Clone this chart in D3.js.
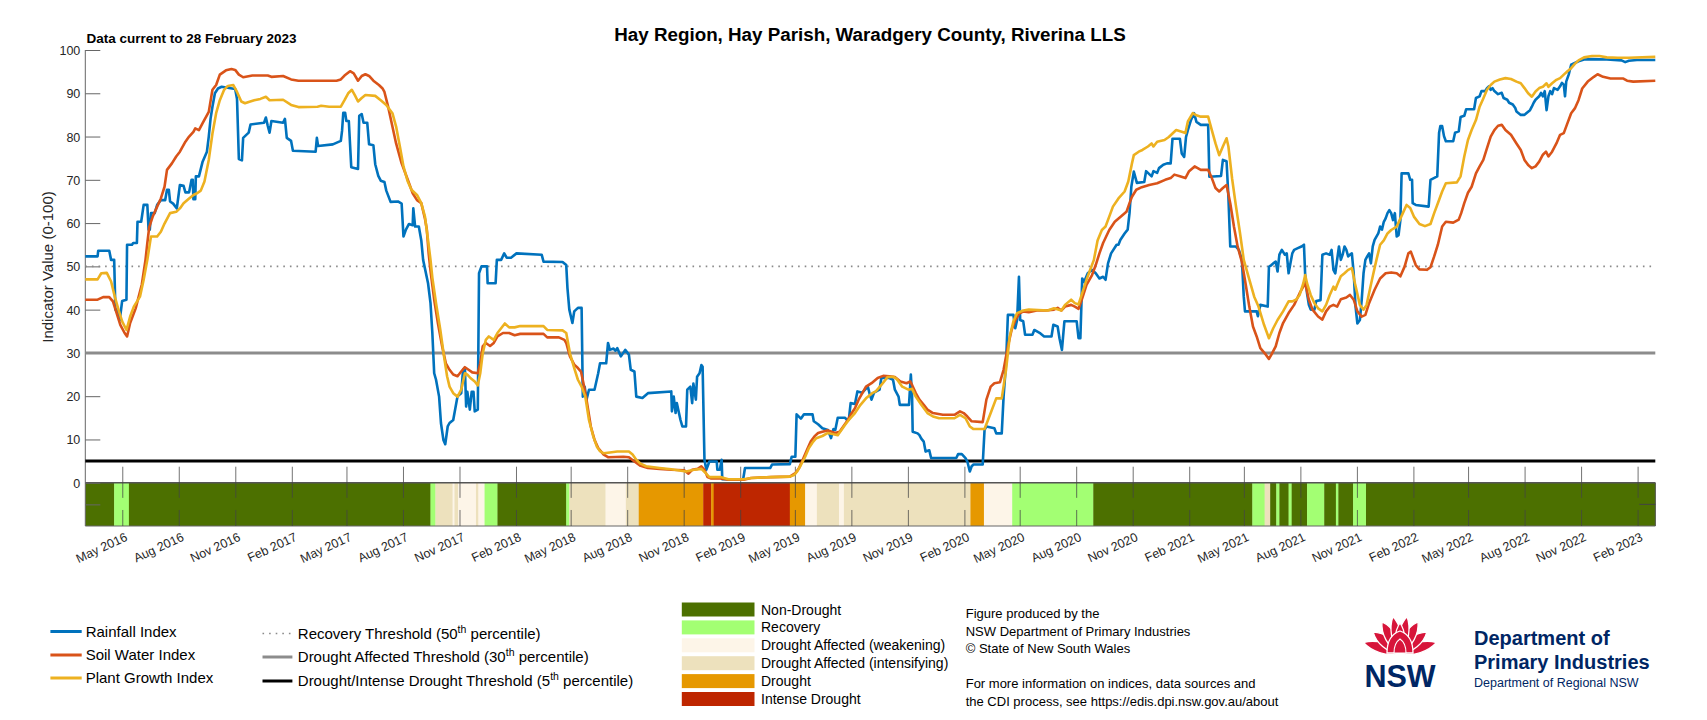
<!DOCTYPE html>
<html><head><meta charset="utf-8">
<script src="https://cdn.jsdelivr.net/npm/d3@7"></script>
<style>
body{margin:0;background:#fff;}
svg text{font-family:"Liberation Sans",Arial,Helvetica,sans-serif;}
</style></head><body>
<svg id="chart" width="1707" height="720"></svg>
<script>
// ---------------- DATA ----------------
const startDate = "2016-03-01";
const endDate = "2023-03-01";
// pairs: [days since startDate, index value (0-100)]
const rainfallIndex = [[0,52.3],[20,52.3],[21,53.6],[39,53.6],[42,51.5],[47,51.5],[49,40],[53,40],[56,37.5],[60,42],[67,42.3],[68,55],[76,55],[78,55.4],[84,55.4],[85,60.3],[91,60.3],[95,64.2],[101,64.2],[103,58.5],[105,58.5],[107,62.3],[113,62.3],[117,64.2],[123,65.3],[130,65.3],[133,67.7],[136,67.7],[138,65],[143,64.5],[149,63.4],[154,68.8],[160,68.6],[163,67.1],[169,67.1],[173,70],[175,70],[176,65.5],[179,65.5],[180,70.8],[185,70.8],[191,74.2],[198,76.5],[201,80],[204,84.2],[207,86.9],[211,90],[216,91.1],[222,91.5],[244,91],[247,88.7],[250,74.8],[255,74.5],[257,79.7],[266,80.9],[269,82.8],[291,83.2],[294,84.4],[297,82.5],[300,80.9],[303,83.6],[322,83.2],[325,84.1],[328,79.7],[335,79],[338,76.7],[375,76.5],[377,79.7],[379,77.8],[403,78.2],[416,79],[418,81.3],[420,85.5],[423,85.5],[425,83.6],[429,83.6],[433,72.9],[444,72.5],[446,84.8],[450,85.2],[453,83.2],[459,83.2],[462,78.2],[469,78],[472,73.6],[477,70.9],[481,69.8],[487,69.5],[490,67.5],[497,64.9],[509,65],[515,64.5],[518,56.9],[522,58.5],[527,59.8],[533,59.5],[534,63.4],[537,59.2],[543,59.2],[547,56],[550,51.5],[558,46.1],[562,41.5],[565,34.6],[568,25.3],[571,23.8],[576,19.9],[579,13.8],[583,9.9],[586,8.9],[590,13],[593,13.8],[599,14.5],[606,20],[612,20.7],[615,26.1],[618,26.5],[620,17.6],[622,21],[626,16.9],[629,21],[632,21],[634,16.5],[639,16.9],[641,48.4],[645,50],[654,50],[655,46.1],[668,46.1],[670,51.5],[677,51.5],[682,53],[686,52],[693,52],[702,53],[743,52.7],[746,51.1],[777,51],[783,50.3],[785,44.9],[788,40],[793,36.9],[796,39.6],[802,40.4],[808,40.4],[810,19.9],[813,22.2],[816,19.2],[820,21.5],[829,21.5],[835,25.3],[838,27.6],[848,27.6],[851,32.3],[854,30.7],[860,31],[863,30.5],[866,31.1],[872,29.2],[879,30.7],[885,29.6],[888,26.1],[894,25.7],[897,19.9],[907,19.6],[916,20.7],[954,21.1],[955,16.5],[958,19.9],[961,16.1],[963,18.4],[969,14.5],[972,13],[978,13],[980,21.5],[985,22.2],[988,18.4],[990,22.9],[994,19.2],[996,24.5],[1000,25.3],[1003,27.2],[1005,26.8],[1008,5.3],[1011,3],[1016,4.9],[1028,4.9],[1029,3],[1033,3],[1036,5.3],[1037,0.8],[1071,0.8],[1074,3.4],[1115,3.4],[1118,4.2],[1147,4.3],[1150,6],[1156,6],[1158,15.8],[1165,14.8],[1170,15.8],[1184,15.8],[1186,14.2],[1193,13.5],[1200,12.6],[1209,12.2],[1214,10.3],[1218,12.4],[1221,12.2],[1225,15],[1237,15],[1240,14.5],[1243,14.5],[1246,18.4],[1253,18.2],[1257,21.1],[1265,20.8],[1274,22.2],[1277,20.5],[1280,19.2],[1284,20.8],[1293,21.5],[1296,24.2],[1309,24.2],[1315,23.8],[1318,21.5],[1324,19.9],[1326,18],[1341,18],[1344,25],[1346,20],[1347,11.8],[1355,11.4],[1358,11],[1361,10.2],[1365,9.5],[1368,7.2],[1374,7.5],[1377,5.7],[1418,5.7],[1421,6.6],[1427,6.6],[1433,5.7],[1436,4.9],[1440,2.6],[1443,3.8],[1446,4.2],[1461,4.2],[1464,12.2],[1467,13],[1480,12.6],[1483,11.4],[1492,11.4],[1495,19.9],[1499,27.6],[1502,38.8],[1511,38.8],[1514,35.7],[1517,37.6],[1520,47.6],[1522,37.6],[1527,37.3],[1530,34.2],[1542,34.2],[1545,35.3],[1555,34.5],[1561,33.8],[1573,33.8],[1576,36.5],[1583,36.1],[1586,33.4],[1590,30.7],[1594,37.3],[1614,37.3],[1617,33.4],[1620,33.4],[1623,47.2],[1626,46.4],[1632,48.4],[1639,49.2],[1645,48.4],[1651,47.2],[1657,47.6],[1661,46.9],[1665,50.7],[1670,53],[1679,55],[1682,55],[1685,56.1],[1692,57.6],[1697,58.5],[1700,62.3],[1703,68.4],[1707,71.9],[1712,69.3],[1724,69.5],[1727,72],[1733,71.2],[1736,70.8],[1739,72],[1745,71.6],[1748,72.7],[1755,73.5],[1761,73.8],[1767,73.8],[1770,79.5],[1782,79.5],[1785,76.1],[1789,75.3],[1792,79.9],[1795,81.5],[1800,83.8],[1805,85.4],[1809,83.4],[1816,82.7],[1828,82.7],[1830,70.7],[1849,70.9],[1852,74.6],[1858,74.3],[1861,66.1],[1864,54.6],[1873,54.6],[1878,53.8],[1883,51.5],[1886,43],[1888,39.6],[1907,39.6],[1909,38.5],[1913,41.1],[1925,40.7],[1927,49.9],[1931,50.3],[1934,50.7],[1938,51.1],[1941,48.8],[1944,52.7],[1948,53.8],[1953,52.7],[1956,53],[1959,48.4],[1962,50.7],[1965,53],[1968,53.8],[1974,54.2],[1980,54.6],[1984,55],[1986,48],[1989,43.8],[1992,41.1],[1995,40],[2001,40],[2004,42],[2011,42.2],[2014,52.7],[2020,53],[2026,52.7],[2029,53.8],[2032,49.2],[2035,48.4],[2038,51.5],[2041,54.6],[2044,51.5],[2047,52.7],[2050,54.6],[2053,53.8],[2056,52.3],[2059,52.7],[2062,53],[2065,48.4],[2068,40.7],[2071,36.8],[2075,37.6],[2078,42.2],[2081,48.4],[2084,51.5],[2087,52.3],[2090,53],[2093,50.7],[2096,54.6],[2099,56.1],[2105,57.6],[2108,59.2],[2111,58.5],[2114,60.3],[2117,61.1],[2120,62.3],[2123,63],[2126,62.3],[2129,60.7],[2132,62.3],[2135,56.9],[2138,57.2],[2141,60.7],[2143,71.5],[2154,71.5],[2157,70],[2160,70],[2161,64.6],[2166,64.2],[2187,63.8],[2190,70],[2201,70.8],[2204,80.9],[2206,82.4],[2209,82.4],[2212,80.1],[2215,78.9],[2227,78.9],[2230,80.9],[2236,81.2],[2239,84.5],[2245,84.8],[2248,86.3],[2261,86.3],[2264,88.9],[2270,89.3],[2273,90.5],[2279,90.5],[2282,91.2],[2285,91.6],[2288,90.8],[2291,91.2],[2294,90.5],[2300,89.8],[2306,90.1],[2309,88.9],[2315,88.5],[2318,87.8],[2324,87.4],[2328,86.6],[2330,85.8],[2337,85],[2343,85],[2346,85.4],[2352,86.1],[2355,86.9],[2358,87.8],[2361,88.5],[2364,88.9],[2367,89.3],[2370,90.1],[2373,89.3],[2376,90.5],[2379,86.1],[2382,89.3],[2385,90.5],[2388,89.8],[2391,91.2],[2397,90.8],[2401,91.6],[2404,92.4],[2407,92],[2409,89.3],[2411,92.7],[2415,94.3],[2419,96.6],[2425,97],[2431,97.4],[2440,97.8],[2453,97.9],[2477,97.8],[2501,97.6],[2507,97.2],[2513,97.5],[2526,97.7],[2556,97.7]];

const soilWaterIndex = [[0,42.3],[20,42.3],[29,42.9],[39,42.9],[45,41.9],[51,39.2],[57,36.5],[64,34.6],[68,33.8],[73,36.9],[82,40.3],[92,45.8],[98,51.5],[101,55.4],[104,59],[110,61.6],[117,63.8],[123,65.7],[129,68.4],[133,72.3],[141,73.8],[148,75.4],[154,76.5],[163,78.8],[169,80],[176,81.1],[179,81.9],[185,81.5],[191,83.1],[201,85.7],[207,90.8],[213,91.9],[219,94.3],[229,95.3],[238,95.6],[244,95.4],[250,94.3],[257,93.7],[272,94.1],[297,94.1],[303,93.8],[322,94],[335,93.2],[347,92.9],[409,92.9],[416,93.2],[422,94.1],[431,95.1],[437,94.6],[444,92.9],[450,94],[456,94.4],[462,94],[469,92.9],[478,91.9],[484,91.1],[487,90.3],[493,86.9],[500,82.3],[506,78.4],[515,73.8],[525,70],[533,66.9],[540,65.3],[547,64.6],[553,61],[556,58.5],[559,53],[562,49],[568,42.3],[574,36.9],[578,33.8],[581,31.5],[584,29.5],[587,27.6],[593,26.1],[599,25],[606,24.6],[612,25.7],[618,26.7],[624,26.1],[630,25.5],[639,25.3],[643,27.6],[647,31.5],[652,32.3],[659,31.6],[665,32.3],[671,33.8],[680,34.6],[690,34.6],[699,34.1],[708,34.4],[746,34.4],[752,33.6],[771,33.6],[780,33],[783,32.3],[789,29.2],[796,27.3],[802,26.5],[807,25.7],[811,23],[816,19.2],[823,13],[829,9.9],[835,8],[844,6.5],[851,5.9],[876,6],[885,5.9],[894,4.9],[904,3.9],[916,3.4],[935,3.2],[954,3],[975,2.9],[982,2.1],[988,3],[997,3.2],[1003,3.8],[1008,3],[1013,1.3],[1019,1],[1034,1],[1047,0.7],[1072,0.7],[1084,1.1],[1116,1.3],[1147,1.4],[1156,2.2],[1162,3.4],[1168,5.3],[1175,7.6],[1181,9.5],[1187,10.7],[1193,11.5],[1200,11.8],[1209,12.1],[1221,11.5],[1228,11.8],[1234,13],[1240,14.2],[1246,15.7],[1253,17.2],[1259,19.2],[1265,20.7],[1271,22.2],[1280,23],[1290,24.2],[1299,24.7],[1309,24.6],[1318,24.4],[1327,23.4],[1337,23],[1343,23.4],[1346,22.6],[1352,20.7],[1358,19.2],[1365,18],[1371,16.9],[1380,16.1],[1396,15.7],[1415,15.7],[1424,16.5],[1430,16.1],[1436,15.3],[1443,14.2],[1461,14],[1467,19.2],[1474,22.2],[1480,23],[1489,23.2],[1495,26.1],[1502,31.5],[1508,35.3],[1514,37.6],[1520,39],[1527,39.6],[1536,39.4],[1549,39.8],[1564,39.8],[1577,40],[1583,40.4],[1589,39.8],[1595,40.7],[1605,41.1],[1611,40.7],[1617,40.2],[1623,42.6],[1630,45.7],[1639,48],[1645,50.3],[1651,53],[1657,55.4],[1667,58.4],[1676,60.3],[1686,61.5],[1695,62.6],[1700,64.6],[1704,66.1],[1711,67.7],[1720,68.3],[1732,68.8],[1745,69.2],[1758,70],[1767,70.4],[1773,71.2],[1782,70.8],[1791,70.4],[1797,72],[1806,73.1],[1816,72.3],[1828,72.3],[1834,70.4],[1840,68.1],[1846,67.3],[1852,68.1],[1858,68.8],[1864,64.6],[1870,59.2],[1876,54.6],[1883,51],[1889,46],[1895,40.7],[1901,36.1],[1907,33.8],[1913,31.1],[1922,29.6],[1927,28.6],[1931,29.6],[1938,31.5],[1944,34.6],[1950,36.9],[1959,39.2],[1968,41.1],[1977,43.8],[1986,46.1],[1992,42.3],[1998,40],[2007,38.4],[2014,37.7],[2020,39.6],[2026,40.7],[2032,41.1],[2038,40.7],[2044,42.4],[2053,42.8],[2059,43.4],[2065,42.3],[2071,39.6],[2078,38.4],[2084,38.8],[2090,41.5],[2099,44.6],[2108,47.2],[2117,48.4],[2126,48.6],[2135,48.4],[2141,47.7],[2148,50],[2154,53],[2158,53.4],[2166,50.3],[2172,49.3],[2184,49.2],[2190,49.8],[2196,52.3],[2202,55],[2209,59.2],[2215,60.3],[2227,60.1],[2236,60.8],[2240,62.3],[2245,64.6],[2251,67],[2257,68.4],[2264,71.5],[2270,73.1],[2276,74.6],[2282,77.3],[2288,80],[2294,81.5],[2300,82.5],[2306,82.7],[2312,81.5],[2321,80.4],[2330,78.4],[2337,76.9],[2343,74.6],[2349,73.4],[2355,72.7],[2361,73.1],[2367,74.2],[2373,75.8],[2378,76.5],[2382,75.4],[2388,76.5],[2395,78.4],[2401,80.4],[2407,80.8],[2413,83.1],[2419,85.4],[2425,86.5],[2431,88.4],[2437,91.1],[2446,92.7],[2456,93.8],[2462,94.4],[2471,93.8],[2483,93.4],[2504,93.4],[2510,92.9],[2520,92.7],[2556,92.9]];

const plantGrowthIndex = [[0,47],[20,47],[26,48.4],[35,48.5],[42,46.5],[48,43],[54,40],[60,37.3],[67,35.3],[73,38.4],[79,40.7],[89,43],[95,46.9],[101,51.5],[106,56.1],[107,56.9],[117,56.9],[123,58],[129,59.9],[138,62.3],[148,62.6],[154,63.4],[160,64.6],[169,65.7],[176,66.5],[182,66.9],[188,67.5],[194,69.6],[201,74.6],[207,80.7],[213,85.4],[219,88.4],[226,90.8],[232,91.7],[241,91.9],[247,90.3],[254,88.1],[260,87.7],[266,88],[275,88.4],[285,88.7],[294,89.2],[300,88.4],[322,88.5],[335,87.3],[347,86.8],[378,86.9],[384,87.1],[397,86.9],[416,86.9],[422,88.4],[428,90],[434,90.8],[439,89.5],[444,88.1],[450,88.9],[456,89.6],[472,89.4],[481,88.4],[490,87.3],[500,85.4],[506,82.3],[512,77.8],[518,73.1],[525,69.6],[531,67.7],[540,66.5],[547,64.6],[553,61.5],[558,56.1],[562,51.5],[565,47.4],[571,41.5],[578,35.3],[584,29.2],[589,24.6],[593,22.2],[599,20.7],[606,19.9],[612,21.5],[618,25.3],[622,25],[627,24.2],[634,23.4],[639,22.5],[643,25.3],[647,29.9],[652,33],[657,33.8],[665,33],[671,34.6],[677,35.7],[683,36.8],[690,35.9],[699,35.9],[708,36.2],[746,36.2],[752,35.3],[777,35.2],[783,34.6],[789,29.9],[796,26.5],[802,23.8],[808,22.2],[814,19.9],[820,14.5],[827,10.7],[833,8.3],[838,7.3],[844,6.8],[854,7],[866,7.2],[885,7.2],[891,6.5],[897,5.3],[904,4.4],[913,3.8],[935,3.4],[954,3.1],[978,2.6],[991,3],[1003,3.2],[1010,2.2],[1016,1.3],[1034,1.3],[1047,0.8],[1072,0.8],[1084,1.1],[1116,1.3],[1147,1.4],[1154,1.8],[1159,2.6],[1165,4.1],[1172,6],[1178,8],[1184,9.3],[1190,10.3],[1200,10.8],[1209,11.5],[1218,11.2],[1225,11],[1231,12.2],[1237,13.4],[1243,14.5],[1253,16.1],[1262,18],[1271,19.5],[1281,20.7],[1287,21.1],[1296,22.6],[1306,24.4],[1315,24.5],[1321,24],[1330,22.2],[1340,21.5],[1346,21.7],[1352,19.9],[1361,18],[1371,16.1],[1380,15.3],[1390,14.9],[1415,14.9],[1424,15.7],[1433,14.9],[1440,13],[1446,12.4],[1464,12.4],[1474,16.1],[1483,19.5],[1492,19.5],[1499,26.1],[1505,33.8],[1511,37.3],[1517,39.2],[1527,39.8],[1536,40],[1567,39.8],[1577,40.3],[1589,39.8],[1595,41.1],[1605,42.3],[1611,41.5],[1617,41.2],[1623,43.8],[1630,46.9],[1636,49.2],[1642,51.5],[1648,56],[1655,58.4],[1661,59.2],[1667,61.5],[1673,63.8],[1682,65.7],[1692,67.3],[1698,69.6],[1704,73.8],[1707,75.7],[1715,76.5],[1721,76.9],[1730,77.7],[1736,78.4],[1739,77.7],[1745,78.8],[1757,79.2],[1764,79.9],[1776,81.5],[1785,81.1],[1791,80.8],[1795,83.5],[1803,85.4],[1809,84.9],[1816,84.6],[1828,84.6],[1834,81.5],[1840,78.4],[1846,75.7],[1852,77.7],[1858,79.6],[1861,77.7],[1867,70.3],[1873,64.2],[1880,57.6],[1886,51.5],[1895,47],[1903,43],[1910,40.7],[1919,36.5],[1927,33.4],[1934,35.7],[1941,37.6],[1950,39.6],[1959,41.9],[1965,41.9],[1971,42.3],[1977,43.4],[1983,46.1],[1986,48],[1989,46.1],[1995,43.4],[2001,41.5],[2007,40.3],[2014,39.6],[2020,41.1],[2026,43.4],[2032,45.3],[2035,44.6],[2038,45.7],[2044,47.7],[2050,48.4],[2056,49.2],[2062,49.6],[2067,46.1],[2075,41.1],[2081,40],[2086,41.1],[2090,43.8],[2096,47.7],[2102,51.5],[2108,55],[2114,56],[2120,57.6],[2126,58.4],[2135,59.2],[2145,62.3],[2151,64.2],[2157,63.5],[2163,61.5],[2172,59.8],[2181,59.3],[2190,59.8],[2196,62.3],[2202,64.6],[2209,67.3],[2215,69.2],[2233,69.4],[2239,70.8],[2245,75.4],[2251,79.2],[2257,81.5],[2264,83.8],[2270,86.9],[2276,88.8],[2282,90.8],[2288,91.9],[2294,92.7],[2303,93.2],[2312,93.5],[2321,93.3],[2330,92.7],[2337,92.3],[2343,91.2],[2349,90],[2355,89.2],[2361,90.4],[2367,91.2],[2373,91.5],[2379,92.3],[2382,91.5],[2388,92.3],[2395,93.1],[2401,93.5],[2407,94.3],[2413,95.1],[2419,95.8],[2425,96.8],[2431,97.6],[2440,98.3],[2453,98.6],[2465,98.6],[2477,98.3],[2495,98.2],[2513,98.2],[2556,98.4]];

// CDI category strip: start day of each period and its category index
const cdiStartDay = [0,47,71,562,570,598,601,607,636,640,650,671,783,788,847,880,901,1006,1019,1023,1147,1172,1191,1227,1235,1441,1463,1509,1641,1900,1920,1929,1939,1944,1959,1964,1989,2017,2036,2040,2064,2085];
const cdiCategory = [0,1,0,1,3,2,3,2,3,2,1,0,1,3,2,3,4,5,4,5,4,2,3,2,3,4,2,1,0,1,3,0,1,0,1,0,1,0,1,0,1,0];
const categoryNames = ["Non-Drought","Recovery","Drought Affected (weakening)","Drought Affected (intensifying)","Drought","Intense Drought"];
const categoryColors = ["#4C7000","#A3FF73","#FDF5E8","#EDE1BD","#E69800","#BE2600"];

const seriesNames = ["Rainfall Index","Soil Water Index","Plant Growth Index"];
const seriesColors = ["#0072BD","#D95319","#EDB120"];

const thresholdValues = [50,30,5];
const thresholdNames = ["Recovery Threshold (50","Drought Affected Threshold (30","Drought/Intense Drought Threshold (5"];

const xTickLabels = ["May 2016","Aug 2016","Nov 2016","Feb 2017","May 2017","Aug 2017","Nov 2017","Feb 2018","May 2018","Aug 2018","Nov 2018","Feb 2019","May 2019","Aug 2019","Nov 2019","Feb 2020","May 2020","Aug 2020","Nov 2020","Feb 2021","May 2021","Aug 2021","Nov 2021","Feb 2022","May 2022","Aug 2022","Nov 2022","Feb 2023"];
const yTickValues = [-5,0,10,20,30,40,50,60,70,80,90,100];

const titleText = "Hay Region, Hay Parish, Waradgery County, Riverina LLS";
const subtitleText = "Data current to 28 February 2023";
const yAxisTitle = "Indicator Value (0-100)";
const creditLines = ["Figure produced by the","NSW Department of Primary Industries","\u00A9 State of New South Wales","","For more information on indices, data sources and","the CDI process, see https://edis.dpi.nsw.gov.au/about"];

// ---------------- CHART ----------------
const svg = d3.select("#chart");
const FONT = '"Liberation Sans",Arial,Helvetica,sans-serif';
const parseDay = d3.timeParse("%Y-%m-%d");
const parseTick = d3.timeParse("%b %Y");
const t0 = parseDay(startDate), t1 = parseDay(endDate);
const toDate = d => d3.timeDay.offset(t0, d);

const x = d3.scaleTime().domain([t0, t1]).range([85.3, 1655.3]);
const y = d3.scaleLinear().domain([-10, 100]).range([526, 50]);

// CDI strip
const strip = svg.append("g");
cdiStartDay.forEach((s, i) => {
  const e = i < cdiStartDay.length - 1 ? cdiStartDay[i + 1] : null;
  const xa = x(toDate(s)), xb = e === null ? x(t1) : x(toDate(e));
  strip.append("rect").attr("x", xa).attr("y", y(0)).attr("width", xb - xa + 0.3)
    .attr("height", y(-10) - y(0)).attr("fill", categoryColors[cdiCategory[i]]);
});
// strip borders
strip.append("line").attr("x1", x(t0)).attr("x2", x(t1)).attr("y1", y(0)).attr("y2", y(0)).attr("stroke", "#555").attr("stroke-width", 1.3);
strip.append("line").attr("x1", x(t0)).attr("x2", x(t1)).attr("y1", y(-10)).attr("y2", y(-10)).attr("stroke", "#666").attr("stroke-width", 1);
strip.append("line").attr("x1", x(t1)).attr("x2", x(t1)).attr("y1", y(0)).attr("y2", y(-10)).attr("stroke", "#555").attr("stroke-width", 1);
strip.append("line").attr("x1", x(t1) - 16).attr("x2", x(t1)).attr("y1", y(-5)).attr("y2", y(-5)).attr("stroke", "#444").attr("stroke-width", 1);

// x ticks
const tickDates = xTickLabels.map(parseTick);
const tg = svg.append("g");
tickDates.forEach(d => {
  const xx = x(d);
  tg.append("line").attr("x1", xx).attr("x2", xx).attr("y1", y(3.7)).attr("y2", y(-3.5)).attr("stroke", "#444").attr("stroke-opacity", 0.75).attr("stroke-width", 1);
  tg.append("line").attr("x1", xx).attr("x2", xx).attr("y1", y(-6.3)).attr("y2", y(-10)).attr("stroke", "#444").attr("stroke-opacity", 0.75).attr("stroke-width", 1);
});
const xAxis = d3.axisBottom(x).tickValues(tickDates).tickSize(0).tickFormat((d, i) => xTickLabels[i]);
const xg = svg.append("g").attr("transform", `translate(0,${y(-10)})`).call(xAxis);
xg.select(".domain").remove();
xg.selectAll("text").attr("y", null).attr("dy", null).attr("text-anchor", "end")
  .attr("transform", "translate(5,14) rotate(-25)")
  .attr("font-family", FONT).attr("font-size", 12.5).attr("fill", "#262626");

// y axis
const yAxis = d3.axisLeft(y).tickValues(yTickValues).tickSize(-15).tickPadding(5)
  .tickFormat(v => v < 0 ? "" : String(v));
const yg = svg.append("g").attr("transform", `translate(${x(t0)},0)`).call(yAxis);
yg.select(".domain").attr("stroke", "#666").attr("d", `M0,${y(100)}V${y(-10)}`);
yg.selectAll(".tick line").attr("stroke", "#666");
yg.selectAll(".tick text").attr("font-family", FONT).attr("font-size", 12.5).attr("fill", "#262626").attr("dy", "0.36em");

// thresholds
const thStyles = [
  {stroke: "#8a8a8a", width: 1.6, dash: "1.6 5"},
  {stroke: "#8c8c8c", width: 3, dash: null},
  {stroke: "#000000", width: 3, dash: null}
];
thresholdValues.forEach((v, i) => {
  const l = svg.append("line").attr("x1", x(t0)).attr("x2", x(t1)).attr("y1", y(v)).attr("y2", y(v))
    .attr("stroke", thStyles[i].stroke).attr("stroke-width", thStyles[i].width);
  if (thStyles[i].dash) l.attr("stroke-dasharray", thStyles[i].dash);
});

// series lines
const line = d3.line().x(p => x(toDate(p[0]))).y(p => y(p[1]));
[rainfallIndex, soilWaterIndex, plantGrowthIndex].forEach((s, i) => {
  svg.append("path").attr("d", line(s)).attr("fill", "none").attr("stroke", seriesColors[i])
    .attr("stroke-width", 2.6).attr("stroke-linejoin", "round");
});

// titles
svg.append("text").attr("x", 870).attr("y", 41).attr("text-anchor", "middle")
  .attr("font-family", FONT).attr("font-size", 18.8).attr("font-weight", "bold").attr("fill", "#000").text(titleText);
svg.append("text").attr("x", 86.5).attr("y", 42.7)
  .attr("font-family", FONT).attr("font-size", 13.5).attr("font-weight", "bold").attr("fill", "#000").text(subtitleText);
svg.append("text").attr("transform", "translate(53,267) rotate(-90)").attr("text-anchor", "middle")
  .attr("font-family", FONT).attr("font-size", 15).attr("fill", "#262626").text(yAxisTitle);

// legend: series
const leg1Y = [631.5, 655, 678];
seriesNames.forEach((n, i) => {
  svg.append("line").attr("x1", 50.4).attr("x2", 81.7).attr("y1", leg1Y[i]).attr("y2", leg1Y[i])
    .attr("stroke", seriesColors[i]).attr("stroke-width", 3);
  svg.append("text").attr("x", 85.7).attr("y", leg1Y[i] + 5.3).attr("font-family", FONT)
    .attr("font-size", 15).attr("fill", "#000").text(n);
});

// legend: thresholds
const leg2Y = [633.5, 657, 681];
thresholdNames.forEach((n, i) => {
  const l = svg.append("line").attr("x1", 262.5).attr("x2", 292.4).attr("y1", leg2Y[i]).attr("y2", leg2Y[i])
    .attr("stroke", thStyles[i].stroke).attr("stroke-width", thStyles[i].width);
  if (thStyles[i].dash) l.attr("stroke-dasharray", thStyles[i].dash);
  const t = svg.append("text").attr("x", 297.8).attr("y", leg2Y[i] + 5.3).attr("font-family", FONT)
    .attr("font-size", 15).attr("fill", "#000");
  t.append("tspan").text(n);
  t.append("tspan").attr("dy", -6).attr("font-size", 10.5).text("th");
  t.append("tspan").attr("dy", 6).text(" percentile)");
});

// legend: categories
categoryNames.forEach((n, i) => {
  const top = 602.5 + i * 17.9;
  svg.append("rect").attr("x", 681.8).attr("y", top).attr("width", 72.7).attr("height", 14)
    .attr("fill", categoryColors[i]);
  svg.append("text").attr("x", 761).attr("y", top + 12).attr("font-family", FONT)
    .attr("font-size", 14).attr("fill", "#000").text(n);
});

// credits
const creditY = [617.5, 635.5, 653, 0, 688, 705.5];
creditLines.forEach((c, i) => {
  if (!c) return;
  svg.append("text").attr("x", 965.7).attr("y", creditY[i]).attr("font-family", FONT)
    .attr("font-size", 13).attr("fill", "#000").text(c);
});

// NSW logo
const logo = svg.append("g");
const fl = logo.append("g").attr("transform", "translate(1400,653)");
function petal(angle, len, w) {
  const p = `M0,0 C${w},${-len*0.3} ${w*0.75},${-len*0.75} 0,${-len} C${-w*0.75},${-len*0.75} ${-w},${-len*0.3} 0,0 Z`;
  fl.append("path").attr("d", p).attr("transform", `rotate(${angle})`)
    .attr("fill", "#D7153A").attr("stroke", "#fff").attr("stroke-width", 1.3);
}
[[-74,38,8],[74,38,8],[-52,34,8.5],[52,34,8.5],[-30,36,8.5],[30,36,8.5],[-11,37,7.5],[11,37,7.5],[0,30,7]].forEach(p => petal(p[0], p[1], p[2]));
fl.append("path").attr("d", "M-13,0 C-13,-14 -6,-20 0,-22 C6,-20 13,-14 13,0 Z")
  .attr("fill", "#D7153A").attr("stroke", "#fff").attr("stroke-width", 1.3);
fl.append("path").attr("d", "M-6,0 C-6,-8 -3,-12 0,-14 C3,-12 6,-8 6,0 Z")
  .attr("fill", "#D7153A").attr("stroke", "#fff").attr("stroke-width", 1.1);
logo.append("text").attr("x", 1400).attr("y", 687).attr("text-anchor", "middle").attr("font-family", FONT)
  .attr("font-size", 30.5).attr("font-weight", "bold").attr("fill", "#002664").text("NSW");
logo.append("text").attr("x", 1474).attr("y", 645).attr("font-family", FONT)
  .attr("font-size", 20).attr("font-weight", "bold").attr("fill", "#002664").text("Department of");
logo.append("text").attr("x", 1474).attr("y", 669).attr("font-family", FONT)
  .attr("font-size", 20).attr("font-weight", "bold").attr("fill", "#002664").text("Primary Industries");
logo.append("text").attr("x", 1474).attr("y", 686.5).attr("font-family", FONT)
  .attr("font-size", 12.5).attr("fill", "#002664").text("Department of Regional NSW");
</script>
</body></html>
